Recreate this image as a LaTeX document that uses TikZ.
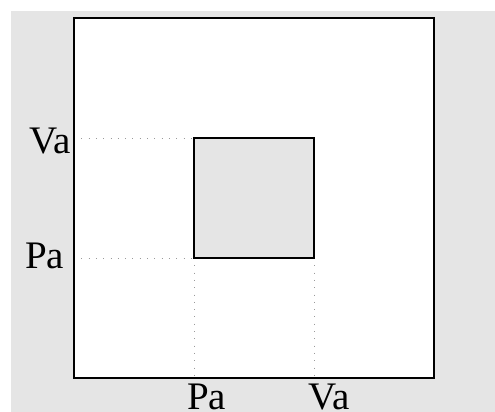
\documentclass[tikz,border=0pt]{standalone}
\usepackage{fontspec}
\setmainfont{Liberation Serif}
\definecolor{bggray}{HTML}{E5E5E5}
\definecolor{dotgray}{HTML}{9A9A9A}
\tikzset{
  box/.style={draw=black, line width=2pt},
  guide/.style={draw=dotgray, line width=1pt, dash pattern=on 1pt off 6.3pt},
  lbl/.style={inner sep=0pt, font=\fontsize{39}{42}\selectfont},
}
\begin{document}
\begin{tikzpicture}[x=1pt, y=-1pt]
\useasboundingbox (0,0) rectangle (495,412);
\fill[bggray] (11,11) rectangle (495,412);
% named corners
\coordinate (OTL) at (74,18);
\coordinate (OBR) at (434,378);
\coordinate (ITL) at (194,138);
\coordinate (IBR) at (314,258);
\coordinate (ILL) at (194,258);
\coordinate (LVa) at (74,138);
\coordinate (LPa) at (74,258);
\coordinate (BPa) at (194,378);
\coordinate (BVa) at (314,378);
\fill[white] (OTL) rectangle (OBR);
% dotted guides
\draw[guide] (LVa) -- (ITL);
\draw[guide] (LPa) -- (ILL);
\draw[guide] (ILL) -- (BPa);
\draw[guide] (IBR) -- (BVa);
% squares
\draw[box] (OTL) rectangle (OBR);
\draw[box, fill=bggray] (ITL) rectangle (IBR);
% labels
\node[lbl, anchor=base west] (tVa) at (29,153) {Va};
\node[lbl, anchor=base west] (tPa) at (25,268) {Pa};
\node[lbl, anchor=base west] (bPa) at (187,409.5) {Pa};
\node[lbl, anchor=base west] (bVa) at (308,409.5) {Va};
\end{tikzpicture}
\end{document}
